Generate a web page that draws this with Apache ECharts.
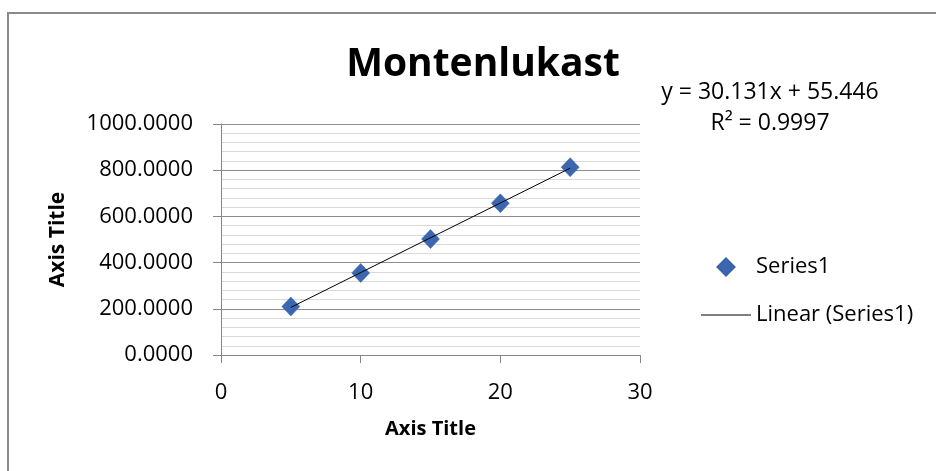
<!DOCTYPE html>
<html>
<head>
<meta charset="utf-8">
<script src="https://cdn.jsdelivr.net/npm/echarts@6/dist/echarts.min.js"></script>
<style>
html,body{margin:0;padding:0;background:#fff;}
#chart{width:936px;height:471px;}
</style>
</head>
<body>
<div id="chart"></div>
<script>
// Data
var xValues = [5, 10, 15, 20, 25];
var yValues = [210, 355, 502, 657, 813];
var trendX = [5, 25];
var trendY = [206.1, 808.7];
var equationText = 'y = 30.131x + 55.446';
var r2Text = 'R\u00b2 = 0.9997';
var titleText = 'Montenlukast';
var seriesName = 'Series1';
var trendName = 'Linear (Series1)';
var xTicks = [0, 10, 20, 30];
var yTicks = [0, 200, 400, 600, 800, 1000];

var FONT = '"Open Sans", "Noto Sans", sans-serif';
var chart = echarts.init(document.getElementById('chart'));

var scatterData = xValues.map(function (x, i) { return [x, yValues[i]]; });
var trendData = trendX.map(function (x, i) { return [x, trendY[i]]; });

chart.setOption({
  animation: false,
  backgroundColor: '#ffffff',
  title: {
    text: titleText,
    left: 478,
    textAlign: 'center',
    top: 40,
    textStyle: { fontFamily: FONT, fontWeight: 'bold', fontSize: 39, color: '#000' }
  },
  grid: { left: 221, right: 296, top: 124, bottom: 116, containLabel: false },
  xAxis: {
    type: 'value',
    min: xTicks[0], max: xTicks[xTicks.length - 1], interval: 10,
    name: 'Axis Title',
    nameLocation: 'middle',
    nameGap: 64,
    nameTextStyle: { fontFamily: FONT, fontWeight: 'bold', fontSize: 20, color: '#000' },
    axisLine: { show: true, lineStyle: { color: '#868686', width: 1 } },
    axisTick: { show: true, inside: false, length: 8, lineStyle: { color: '#868686' } },
    axisLabel: { margin: 27, fontFamily: FONT, fontSize: 22, color: '#000' },
    splitLine: { show: false }
  },
  yAxis: {
    type: 'value',
    min: yTicks[0], max: yTicks[yTicks.length - 1], interval: 200,
    name: 'Axis Title',
    nameLocation: 'middle',
    nameGap: 152,
    nameRotate: 90,
    nameTextStyle: { fontFamily: FONT, fontWeight: 'bold', fontSize: 21, color: '#000' },
    axisLine: { show: true, lineStyle: { color: '#868686', width: 1 } },
    axisTick: { show: true, inside: false, length: 8, lineStyle: { color: '#868686' } },
    axisLabel: {
      margin: 28, fontFamily: FONT, fontSize: 22, color: '#000',
      formatter: function (v) { return v.toFixed(4); }
    },
    splitLine: { show: true, lineStyle: { color: '#8c8c8c', width: 1 } },
    minorTick: { show: false, splitNumber: 5 },
    minorSplitLine: { show: true, lineStyle: { color: '#d9d9d9', width: 1 } }
  },
  legend: {
    orient: 'vertical',
    left: 696,
    top: 251,
    itemWidth: 50,
    itemHeight: 17,
    itemGap: 26,
    symbolKeepAspect: true,
    textStyle: { fontFamily: FONT, fontSize: 22, color: '#000' },
    data: [
      { name: seriesName, icon: 'path://M0,10L10,0L20,10L10,20Z' },
      { name: trendName, icon: 'path://M0,0L100,0L100,2L0,2Z' }
    ]
  },
  series: [
    {
      name: seriesName,
      type: 'scatter',
      symbol: 'diamond',
      symbolSize: [18, 19],
      itemStyle: { color: '#3B67B1', borderColor: '#3A62A6', borderWidth: 0.5, opacity: 1 },
      data: scatterData,
      z: 3
    },
    {
      name: trendName,
      type: 'line',
      symbol: 'none',
      color: '#000',
      lineStyle: { color: '#000', width: 1 },
      itemStyle: { color: '#000' },
      data: trendData,
      z: 4
    }
  ],
  graphic: [
    {
      type: 'rect',
      shape: { x: 8, y: 13, width: 1200, height: 1000 },
      style: { fill: 'none', stroke: '#8a8a8a', lineWidth: 2 },
      silent: true, z: -1
    },
    {
      type: 'text',
      x: 770, y: 92,
      style: { text: equationText, align: 'center', verticalAlign: 'middle', fontFamily: FONT, fontSize: 23, fill: '#000' }
    },
    {
      type: 'text',
      x: 770, y: 123,
      style: { text: r2Text, align: 'center', verticalAlign: 'middle', fontFamily: FONT, fontSize: 23, fill: '#000' }
    }
  ]
});
</script>
</body>
</html>
